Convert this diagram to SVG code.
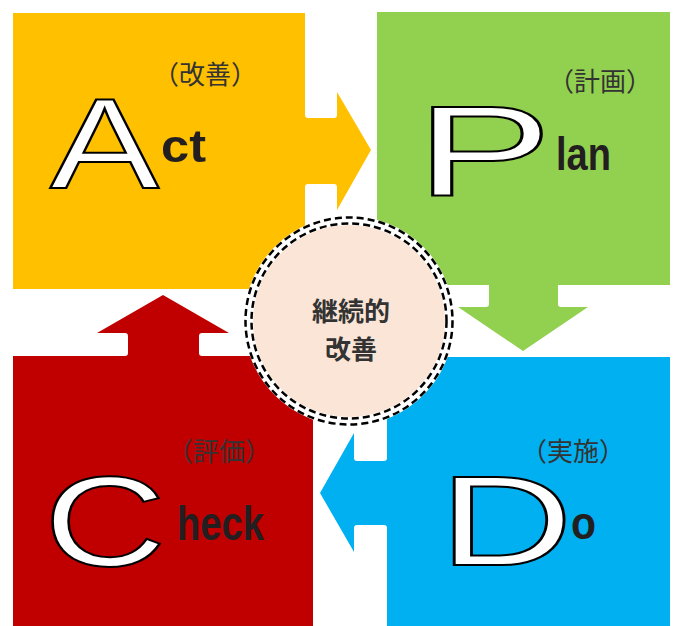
<svg xmlns="http://www.w3.org/2000/svg" width="678" height="626" viewBox="0 0 678 626">
  <style>
    .big { font-family: "Liberation Sans", Arial, sans-serif; font-size: 128px; fill: #ffffff; stroke: #000000; stroke-width: 2; }
    .small { font-family: "Liberation Sans", Arial, sans-serif; font-weight: 700; fill: #231f20; }
    .jp { font-family: "Noto Sans CJK JP", "Noto Sans", sans-serif; font-size: 26px; fill: #333333; text-anchor: middle; }
    .center { font-family: "Noto Sans CJK JP", "Noto Sans", sans-serif; font-size: 26px; font-weight: 700; fill: #333333; text-anchor: middle; }
    .ring { fill: none; stroke: #000000; stroke-width: 2.5; stroke-dasharray: 7 4; }
  </style>
  <rect x="0" y="0" width="678" height="626" fill="#ffffff"/>

  <g id="act">
    <path fill="#FFC000" d="M13,13 H305 V115 Q305,118 308,118 H334 Q337,118 337,115 V92 L371,150 L337,210 V187 Q337,184 334,184 H308 Q305,184 305,187 V289 H13 Z"/>
    <text class="jp" x="205" y="84">（改善）</text>
    <text class="big" x="50" y="188" textLength="109" lengthAdjust="spacingAndGlyphs">A</text>
    <text class="small" x="161" y="162" font-size="47" textLength="45" lengthAdjust="spacingAndGlyphs">ct</text>
  </g>

  <g id="plan">
    <path fill="#92D050" d="M377,12 H670 V285 H558 V304 Q558,307 561,307 H588 L523,351 L458,307 H486 Q489,307 489,304 V285 H377 Z"/>
    <text class="jp" x="600" y="91">（計画）</text>
    <text class="big" x="416" y="195" textLength="136" lengthAdjust="spacingAndGlyphs">P</text>
    <text class="small" x="556" y="170" font-size="47" textLength="55" lengthAdjust="spacingAndGlyphs">lan</text>
  </g>

  <g id="do">
    <path fill="#00B0F0" d="M387,357 H670 V626 H387 V528 Q387,525 384,525 H357 Q354,525 354,528 V552 L320,493 L354,433 V458 Q354,461 357,461 H384 Q387,461 387,458 Z"/>
    <text class="jp" x="573" y="461">（実施）</text>
    <text class="big" x="439" y="565" textLength="134" lengthAdjust="spacingAndGlyphs">D</text>
    <text class="small" x="571" y="539" font-size="46" textLength="25" lengthAdjust="spacingAndGlyphs">o</text>
  </g>

  <g id="check">
    <path fill="#C00000" d="M13,356 H125 Q128,356 128,353 V336 Q128,333 125,333 H97 L163,295 L229,333 H202 Q199,333 199,336 V353 Q199,356 202,356 H313 V626 H13 Z"/>
    <text class="jp" x="219" y="461">（評価）</text>
    <text class="big" x="44" y="566" textLength="122" lengthAdjust="spacingAndGlyphs">C</text>
    <text class="small" x="177" y="540" font-size="49" textLength="87" lengthAdjust="spacingAndGlyphs">heck</text>
  </g>

  <g id="connectors"></g>

  <g id="center-node">
    <circle cx="349" cy="321" r="100.5" fill="#FBE5D6" stroke="#ffffff" stroke-width="9"/>
    <circle class="ring" cx="349" cy="321" r="103.5"/>
    <circle class="ring" cx="349" cy="321" r="97.5"/>
    <text class="center" x="351" y="321">継続的</text>
    <text class="center" x="351" y="359">改善</text>
  </g>
</svg>
